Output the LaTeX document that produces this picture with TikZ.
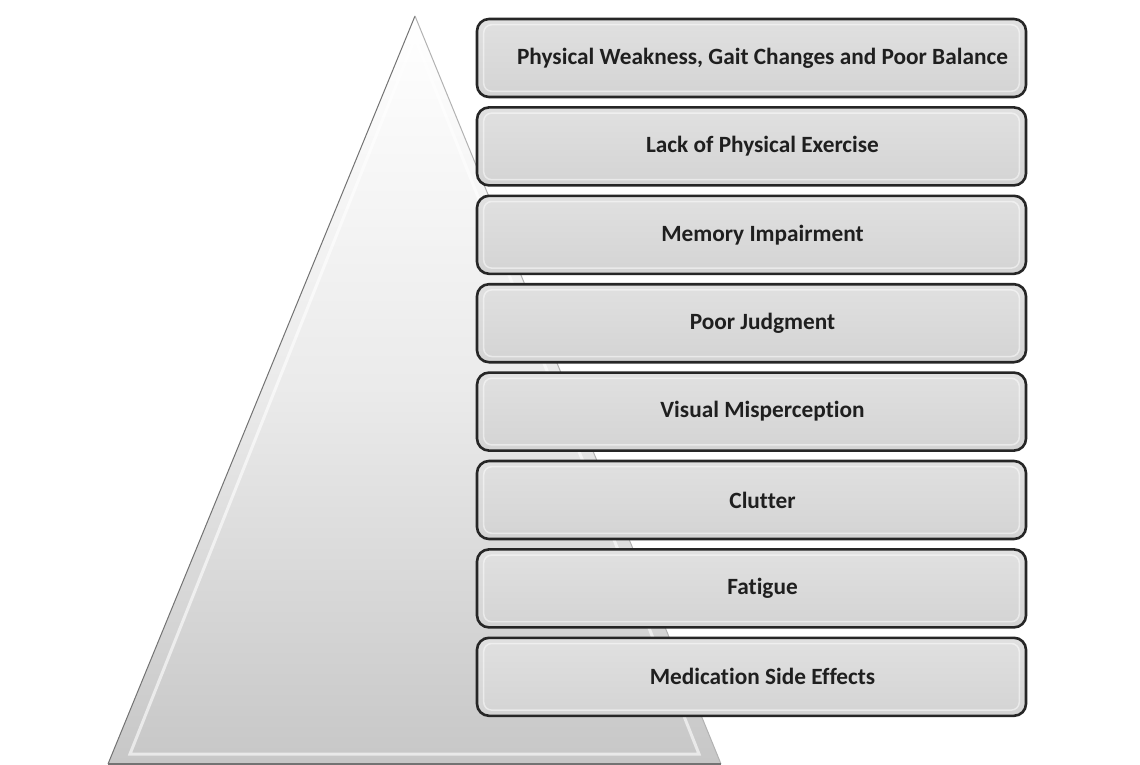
\documentclass[tikz,border=0pt]{standalone}
\usepackage{fontspec}
\setmainfont{Carlito}[Ligatures=NoCommon]
\begin{document}
\begin{tikzpicture}[x=1pt,y=-1pt,
  fbox/.style={draw=black!85, line width=2.6pt, rounded corners=12pt,
    top color=black!12, bottom color=black!17,
    minimum width=549pt, minimum height=78pt, inner sep=0pt},
  txt/.style={font=\bfseries\fontsize{23.3}{26}\selectfont, text=black!88, inner sep=0pt},
  bevel/.style={draw=white, opacity=.5, line width=1.5pt, rounded corners=8pt}]
\useasboundingbox (0,0) rectangle (1140,765);
% triangle
\coordinate (apex) at (415,16);
\coordinate (bl) at (108,764);
\coordinate (br) at (721,764);
\shade[top color=white, bottom color=black!22, middle color=black!8] (apex) -- (bl) -- (br) -- cycle;
\draw[white, line width=3pt, opacity=.6] ([shift={(0,22)}]apex) -- ([shift={(22,-10)}]bl) -- ([shift={(-22,-10)}]br) -- cycle;
\draw[black!55, line width=1pt] (apex) -- (bl);
\draw[black!30, line width=1pt] (apex) -- (br);
\draw[black!55, line width=1.5pt] (bl) -- (br);
% boxes
\foreach \i/\t in {0/{Physical Weakness, Gait Changes and Poor Balance},
                   1/{Lack of Physical Exercise},
                   2/{Memory Impairment},
                   3/{Poor Judgment},
                   4/{Visual Misperception},
                   5/{Clutter},
                   6/{Fatigue},
                   7/{Medication Side Effects}} {
  \node[fbox] (b\i) at (751.5,{58+88.4*\i}) {};
  \draw[bevel] ([shift={(8,7)}]b\i.north west) rectangle ([shift={(-8,-7)}]b\i.south east);
  \node[txt] (t\i) at ([xshift=11pt]b\i.center) {\t};
}
\end{tikzpicture}
\end{document}
